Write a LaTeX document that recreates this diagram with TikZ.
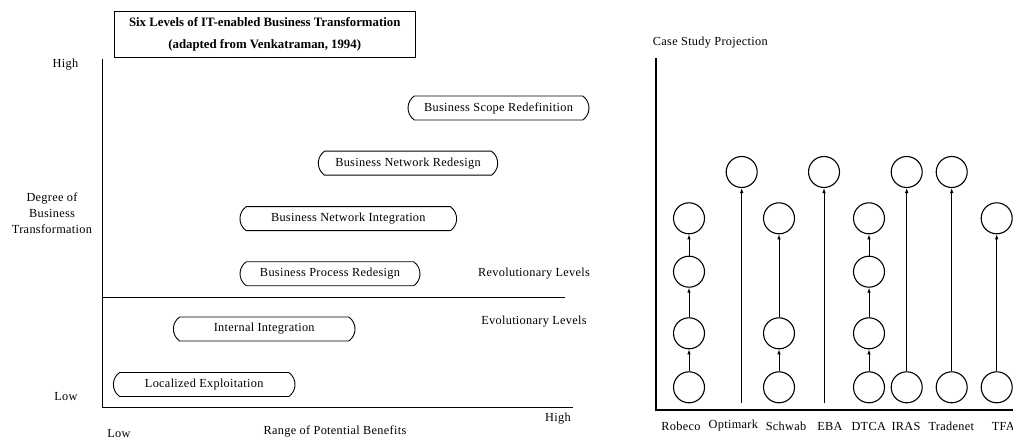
\documentclass[tikz,border=0pt]{standalone}
\usepackage{fontspec}
\setmainfont{Liberation Serif}[LetterSpace=2.5]
\newfontfamily\titlefont{Liberation Serif}
\usetikzlibrary{shapes.misc,arrows.meta}
\begin{document}
\begin{tikzpicture}[x=1pt,y=-1pt,
  lbl/.style={font=\fontsize{12.3}{16}\selectfont, inner sep=0pt, align=center},
  lvl/.style={draw, line width=0.9pt, rounded rectangle, rounded rectangle arc length=110,
    minimum height=24pt, inner sep=0pt, font=\fontsize{12.3}{15}\selectfont},
  axis/.style={line width=1.4pt},
  circ/.style={draw, circle, line width=1.1pt, minimum size=31pt, inner sep=0pt},
  conn/.style={line width=0.9pt, -{Latex[length=5pt,width=3.6pt]}}]
\useasboundingbox (0,0) rectangle (1013,446);

% ---------- left chart ----------
\node[draw, line width=0.9pt, minimum width=301pt, minimum height=46.3pt, align=center,
  inner sep=0pt, font=\titlefont\bfseries\fontsize{12.8}{21.4}\selectfont] (title) at (264.7,34.2)
  {Six Levels of IT-enabled Business Transformation\\(adapted from Venkatraman, 1994)};

\coordinate (ytop) at (102.3,59.3);
\coordinate (origin) at (102.3,407.7);
\coordinate (xend) at (573.3,407.7);
\coordinate (divL) at (102.3,298);
\coordinate (divR) at (565,298);
\draw[axis] (ytop) -- (origin) -- (xend);
\draw[line width=1pt] (divL) -- (divR);

\node[lbl] (yhigh) at (65.5,64.3) {High};
\node[lbl] (ylbl) at (52,213) {Degree of\\Business\\Transformation};
\node[lbl] (ylow) at (66,396.7) {Low};
\node[lbl] (xlow) at (119,434) {Low};
\node[lbl] (xlbl) at (335,431) {Range of Potential Benefits};
\node[lbl] (xhigh) at (558,418.3) {High};
\node[lbl] (rev) at (534,273.3) {Revolutionary Levels};
\node[lbl] (evo) at (534,321.5) {Evolutionary Levels};

\node[lvl, minimum width=181pt] (bsr) at (498.5,108) {Business Scope Redefinition};
\node[lvl, minimum width=179.4pt] (bnr) at (408,163.2) {Business Network Redesign};
\node[lvl, minimum width=216.7pt] (bni) at (348.3,218.7) {Business Network Integration};
\node[lvl, minimum width=180pt] (bpr) at (330,273.8) {Business Process Redesign};
\node[lvl, minimum width=181.7pt] (ii) at (264.2,329) {Internal Integration};
\node[lvl, minimum width=181.7pt] (le) at (204.2,384.5) {Localized Exploitation};

% ---------- right chart ----------
\node[lbl, anchor=west] (cs) at (652.7,42.3) {Case Study Projection};
\coordinate (rtop) at (656,58.3);
\coordinate (rorigin) at (656,410);
\coordinate (rend) at (1013,410);
\draw[axis] (rtop) -- (rorigin) -- (rend);

% Robeco
\node[circ] (rob5) at (689,387.3) {};
\node[circ] (rob4) at (689,333.3) {};
\node[circ] (rob3) at (689,271.7) {};
\node[circ] (rob2) at (689,218.3) {};
\draw[conn] (rob5) -- (rob4);
\draw[conn] (rob4) -- (rob3);
\draw[conn] (rob3) -- (rob2);
% Optimark
\node[circ] (opt1) at (741.7,172) {};
\coordinate (opt0) at (741.7,403);
\draw[conn] (opt0) -- (opt1);
% Schwab
\node[circ] (sch5) at (779,387.3) {};
\node[circ] (sch4) at (779,333.3) {};
\node[circ] (sch2) at (779,218.3) {};
\draw[conn] (sch5) -- (sch4);
\draw[conn] (sch4) -- (sch2);
% EBA
\node[circ] (eba1) at (824,172) {};
\coordinate (eba0) at (824,403);
\draw[conn] (eba0) -- (eba1);
% DTCA
\node[circ] (dt5) at (869,387.3) {};
\node[circ] (dt4) at (869,333.3) {};
\node[circ] (dt3) at (869,271.7) {};
\node[circ] (dt2) at (869,218.3) {};
\draw[conn] (dt5) -- (dt4);
\draw[conn] (dt4) -- (dt3);
\draw[conn] (dt3) -- (dt2);
% IRAS
\node[circ] (ir5) at (906.7,387.3) {};
\node[circ] (ir1) at (906.7,172) {};
\draw[conn] (ir5) -- (ir1);
% Tradenet
\node[circ] (tr5) at (951.7,387.3) {};
\node[circ] (tr1) at (951.7,172) {};
\draw[conn] (tr5) -- (tr1);
% TFA
\node[circ] (tf5) at (996.7,387.3) {};
\node[circ] (tf2) at (996.7,218.3) {};
\draw[conn] (tf5) -- (tf2);

\node[lbl] (lrob) at (681,426) {Robeco};
\node[lbl] (lopt) at (733.3,426) {Optimark};
\node[lbl] (lsch) at (786,426) {Schwab};
\node[lbl] (leba) at (830,426) {EBA};
\node[lbl] (ldt) at (868.7,426) {DTCA};
\node[lbl] (lir) at (906,426) {IRAS};
\node[lbl] (ltr) at (951.3,426) {Tradenet};
\node[lbl, anchor=west] (ltf) at (991.7,426) {TFA};
\end{tikzpicture}
\end{document}
